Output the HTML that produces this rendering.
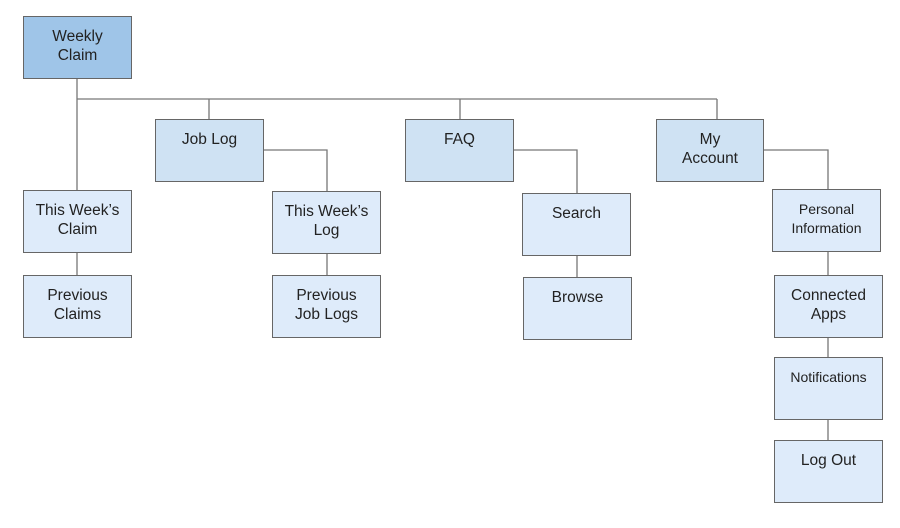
<!DOCTYPE html>
<html><head><meta charset="utf-8"><style>
body{margin:0;width:900px;height:528px;background:#fff;position:relative;overflow:hidden;font-family:"Liberation Sans",sans-serif;}
.b{position:absolute;box-sizing:border-box;border:1px solid #666;background:#deebfa;color:#222;font-size:15.5px;text-align:center;line-height:19px;padding-top:10px;}
.l1{background:#cfe2f3}
.l0{background:#9fc5e8}
svg{position:absolute;left:0;top:0}
</style></head><body>
<svg width="900" height="528"><g stroke="#777" stroke-width="1.3" fill="none">
<path d="M77 79V190M77 99H717M209 99V119M460 99V119M717 99V119M77 253V275"/>
<path d="M264 150H327V191M327 254V275"/>
<path d="M514 150H577V193M577 256V277"/>
<path d="M764 150H828V189M828 252V275M828 338V357M828 420V440"/>
</g></svg>
<div class="b l0" style="left:23px;top:16px;width:109px;height:63px">Weekly<br>Claim</div>
<div class="b" style="left:23px;top:190px;width:109px;height:63px">This Week’s<br>Claim</div>
<div class="b" style="left:23px;top:275px;width:109px;height:63px">Previous<br>Claims</div>
<div class="b l1" style="left:155px;top:119px;width:109px;height:63px">Job Log</div>
<div class="b" style="left:272px;top:191px;width:109px;height:63px">This Week’s<br>Log</div>
<div class="b" style="left:272px;top:275px;width:109px;height:63px">Previous<br>Job Logs</div>
<div class="b l1" style="left:405px;top:119px;width:109px;height:63px">FAQ</div>
<div class="b" style="left:522px;top:193px;width:109px;height:63px">Search</div>
<div class="b" style="left:523px;top:277px;width:109px;height:63px">Browse</div>
<div class="b l1" style="left:656px;top:119px;width:108px;height:63px">My<br>Account</div>
<div class="b" style="left:772px;top:189px;width:109px;height:63px;font-size:14px">Personal<br>Information</div>
<div class="b" style="left:774px;top:275px;width:109px;height:63px">Connected<br>Apps</div>
<div class="b" style="left:774px;top:357px;width:109px;height:63px;font-size:14px">Notifications</div>
<div class="b" style="left:774px;top:440px;width:109px;height:63px">Log Out</div>
</body></html>
